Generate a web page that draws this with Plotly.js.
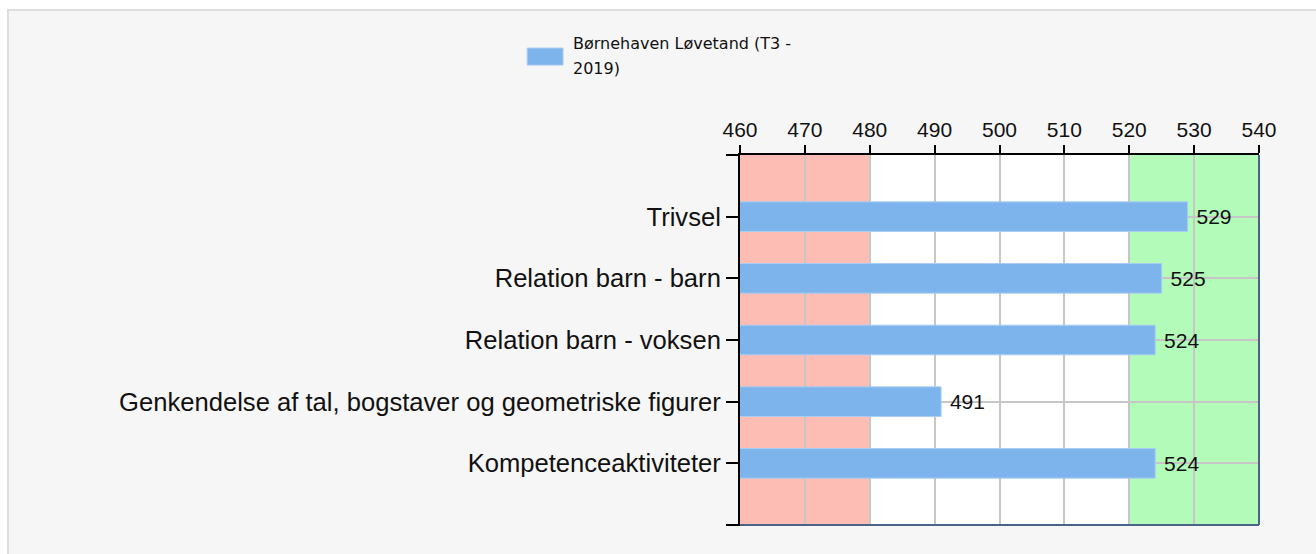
<!DOCTYPE html>
<html>
<head>
<meta charset="utf-8">
<script src="https://cdn.plot.ly/plotly-3.0.1.min.js"></script>
<style>
  html, body { margin: 0; padding: 0; background: #ffffff; width: 1316px; height: 554px; overflow: hidden; }
  #wrap { position: absolute; left: 7px; top: 9px; width: 1309px; height: 545px; border-top: 2px solid #dedede; border-left: 2px solid #dedede; background: #f6f6f6; }
  #chart { width: 1307px; height: 543px; }
</style>
</head>
<body>
<div id="wrap"><div id="chart"></div></div>
<script>
const categories = [
  "Trivsel",
  "Relation barn - barn",
  "Relation barn - voksen",
  "Genkendelse af tal, bogstaver og geometriske figurer",
  "Kompetenceaktiviteter"
];
const values = [529, 525, 524, 491, 524];
const seriesName = "Børnehaven Løvetand (T3 - 2019)";
const legendLines = ["Børnehaven Løvetand (T3 -", "2019)"];
const tickValues = [460, 470, 480, 490, 500, 510, 520, 530, 540];
const lowBand = [460, 480];
const highBand = [520, 540];

const trace = {
  type: 'bar',
  orientation: 'h',
  x: values,
  y: categories,
  name: seriesName,
  width: 0.48,
  marker: { color: '#7db4eb', line: { color: '#a9cdf2', width: 1 } },
  text: values.map(v => ' ' + v),
  textposition: 'outside',
  cliponaxis: false,
  textfont: { family: 'Liberation Sans, Arial, sans-serif', size: 21, color: '#111111' },
  showlegend: false,
  hoverinfo: 'x+y'
};

const layout = {
  width: 1307,
  height: 543,
  margin: { l: 731, r: 57, t: 144, b: 29, pad: 0 },
  paper_bgcolor: 'rgba(0,0,0,0)',
  plot_bgcolor: '#ffffff',
  font: { family: 'Liberation Sans, Arial, sans-serif', color: '#111111' },
  bargap: 0.5,
  xaxis: {
    side: 'top',
    range: [460, 540],
    tickvals: tickValues,
    ticks: 'outside',
    ticklen: 8,
    tickwidth: 2,
    tickcolor: '#000000',
    showline: true,
    linecolor: '#000000',
    linewidth: 2,
    showgrid: true,
    gridcolor: '#c6c6c6',
    gridwidth: 2,
    zeroline: false,
    tickfont: { family: 'Liberation Sans, Arial, sans-serif', size: 21, color: '#111111' },
    fixedrange: true
  },
  yaxis: {
    type: 'category',
    categoryorder: 'array',
    categoryarray: categories,
    range: [5, -1],
    ticks: 'outside',
    ticklen: 12,
    tickwidth: 2,
    tickcolor: '#000000',
    showline: true,
    linecolor: '#000000',
    linewidth: 2,
    showgrid: true,
    gridcolor: '#c6c6c6',
    gridwidth: 2,
    zeroline: false,
    tickfont: { family: 'Liberation Sans, Arial, sans-serif', size: 25.6, color: '#111111' },
    fixedrange: true
  },
  shapes: [
    { type: 'rect', layer: 'below', xref: 'x', yref: 'paper', x0: lowBand[0], x1: lowBand[1], y0: 0, y1: 1, fillcolor: '#fdbcb4', line: { width: 0 } },
    { type: 'rect', layer: 'below', xref: 'x', yref: 'paper', x0: highBand[0], x1: highBand[1], y0: 0, y1: 1, fillcolor: '#b3fbb9', line: { width: 0 } },
    { type: 'line', xref: 'paper', yref: 'paper', x0: 0, x1: 1, y0: 0, y1: 0, line: { color: '#4c6388', width: 2 } },
    { type: 'line', xref: 'paper', yref: 'paper', x0: 1, x1: 1, y0: 0, y1: 1, line: { color: '#4c6388', width: 2 } },
    { type: 'line', xref: 'paper', yref: 'paper', x0: -0.027, x1: 0, y0: 1, y1: 1, line: { color: '#000000', width: 2 } },
    { type: 'line', xref: 'paper', yref: 'paper', x0: -0.027, x1: 0, y0: 0, y1: 0, line: { color: '#000000', width: 2 } },
    { type: 'rect', xref: 'paper', yref: 'paper', x0: -0.410, x1: -0.341, y0: 1.243, y1: 1.289, fillcolor: '#7db4eb', line: { color: '#a9cdf2', width: 1 } }
  ],
  annotations: legendLines.map((t, i) => ({
    xref: 'paper', yref: 'paper', x: -0.326, y: 1.300 - i * 0.065, xanchor: 'left', yanchor: 'middle', align: 'left', showarrow: false,
    text: t, font: { family: 'DejaVu Sans, Verdana, sans-serif', size: 16, color: '#111111' }
  }))
};

Plotly.newPlot('chart', [trace], layout, { displayModeBar: false, staticPlot: true });
</script>
</body>
</html>
